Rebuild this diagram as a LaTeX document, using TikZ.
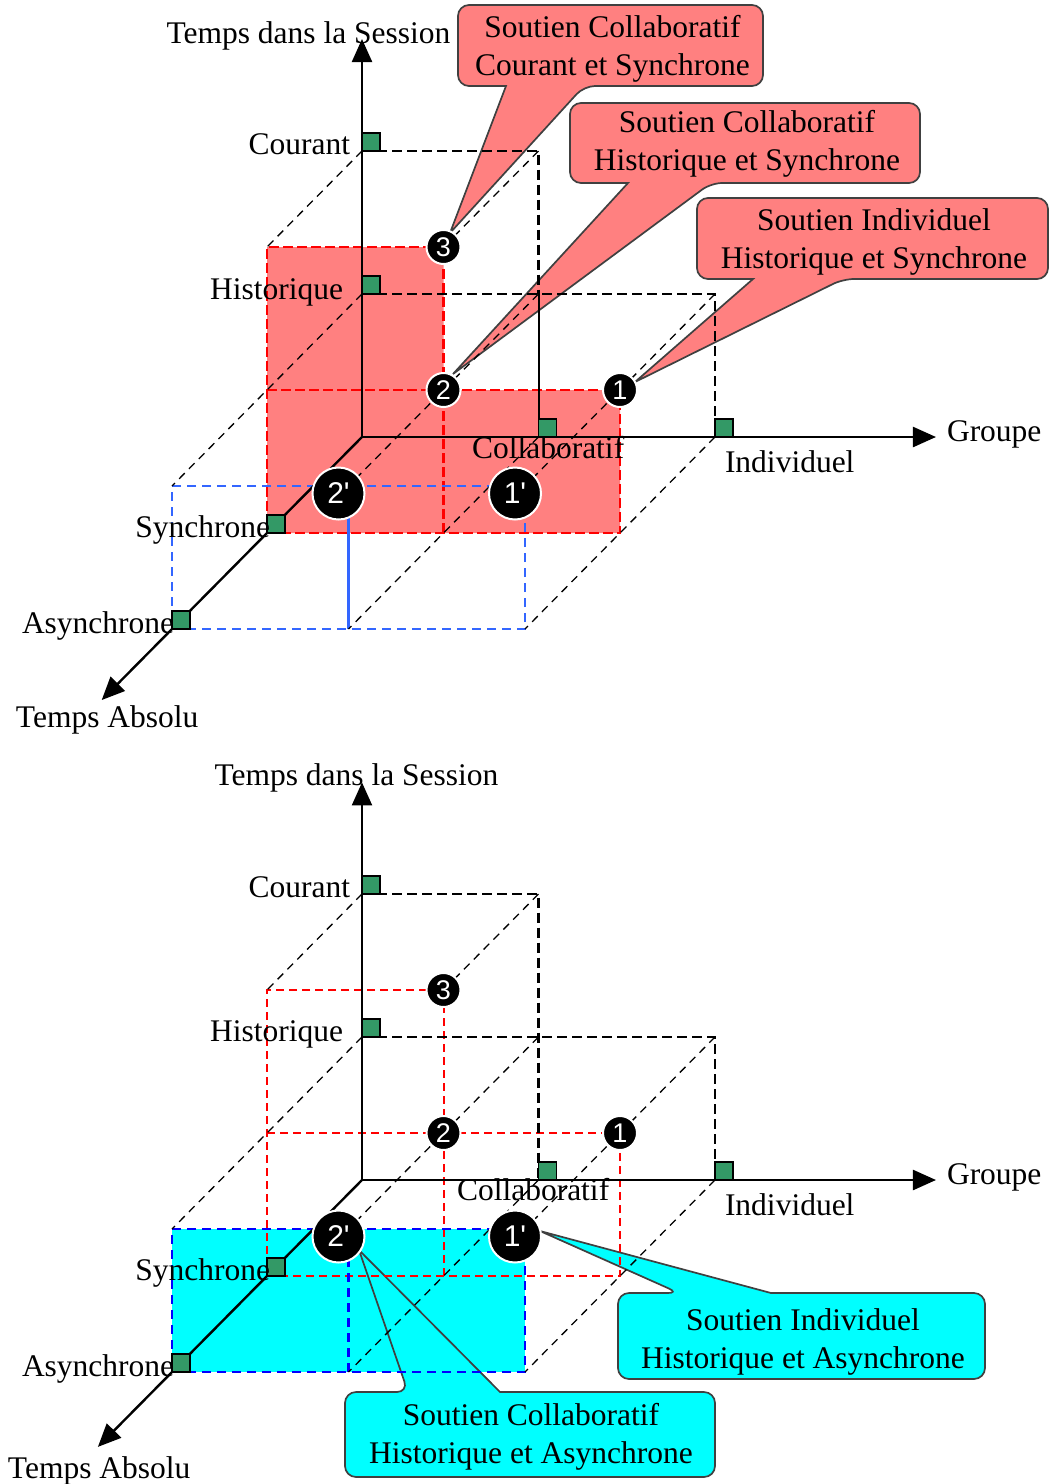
\documentclass[tikz,border=0pt]{standalone}
\usepackage{fontspec}
\setmainfont{Liberation Serif}
\newfontfamily\numfont[Ligatures=TeXOff]{Liberation Sans}
\usetikzlibrary{arrows.meta,calc}
\definecolor{salmon}{RGB}{255,128,128}
\definecolor{ptgreen}{RGB}{51,153,102}
\definecolor{topblue}{RGB}{51,102,255}
\definecolor{cyanfill}{RGB}{0,255,255}
\definecolor{outl}{RGB}{64,64,64}
\begin{document}
\begin{tikzpicture}[x=1pt,y=-1pt,
  lbl/.style={font=\fontsize{31.5}{38}\selectfont, inner sep=0pt, outer sep=0pt},
  thindash/.style={black, line width=1.3pt, dash pattern=on 8pt off 6pt},
  thickdash/.style={black, line width=2.3pt, dash pattern=on 10pt off 5pt},
  axisline/.style={black, line width=2.4pt, -{Triangle[length=23pt,width=20pt]}},
  redthick/.style={red, line width=2.8pt, dash pattern=on 10pt off 4pt},
  redthin/.style={red, line width=2pt, dash pattern=on 8pt off 5pt},
  bluetop/.style={topblue, line width=2.6pt, dash pattern=on 9pt off 6pt},
  bluebot/.style={blue, line width=2.6pt, dash pattern=on 9pt off 6pt},
  sqnode/.style={draw=black, fill=ptgreen, line width=1.8pt, minimum size=18pt, inner sep=0pt, outer sep=0pt, anchor=south west},
  smallc/.style={circle, fill=black, draw=white, line width=2pt, minimum size=34pt, inner sep=0pt, text=white, font=\numfont\fontsize{27}{27}\selectfont},
  bigc/.style={smallc, minimum size=52pt, font=\numfont\fontsize{30}{30}\selectfont},
  bubble/.style={draw=outl, line width=1.7pt, rounded corners=11pt}
]
\fill[white] (0,0) rectangle (1052,1484);
\useasboundingbox (0,0) rectangle (1052,1484);

% ---------- 3D grid coordinates ----------
\begin{scope}[shift={(362,437)}]
\begin{scope}[x={(176.5pt,0pt)},y={(0pt,143pt)},z={(-95pt,-96pt)}]
\foreach \a in {0,1,2}{\foreach \b in {0,1,2}{\foreach \c in {0,1,2}{\coordinate (T\a\b\c) at (\a,\b,\c);}}}
\coordinate (Tx) at (3.252,0,0);
\coordinate (Ty) at (0,2.783,0);
\coordinate (Tz) at (0,0,2.74);
\end{scope}
\end{scope}
\begin{scope}[shift={(362,1180)}]
\begin{scope}[x={(176.5pt,0pt)},y={(0pt,143pt)},z={(-95pt,-96pt)}]
\foreach \a in {0,1,2}{\foreach \b in {0,1,2}{\foreach \c in {0,1,2}{\coordinate (B\a\b\c) at (\a,\b,\c);}}}
\coordinate (Bx) at (3.252,0,0);
\coordinate (By) at (0,2.78,0);
\coordinate (Bz) at (0,0,2.78);
\end{scope}
\end{scope}

% ================= TOP DIAGRAM =================
\fill[salmon] (T001) -- (T201) -- (T211) -- (T111) -- (T121) -- (T021) -- cycle;

% callouts
\coordinate (tipA) at (450,233);
\coordinate (tipB) at (453,374);
\coordinate (tipC) at (635,382);
\draw[bubble, fill=salmon] (458,5) -- (763,5) -- (763,86) -- (584,86) [sharp corners] -- (tipA) -- (506,86) [rounded corners=11pt] -- (458,86) -- cycle;
\draw[bubble, fill=salmon] (570,103) -- (920,103) -- (920,183) -- (711,183) [sharp corners] -- (tipB) -- (628,183) [rounded corners=11pt] -- (570,183) -- cycle;
\draw[bubble, fill=salmon] (697,198) -- (1048,198) -- (1048,279) -- (843,279) [sharp corners] -- (tipC) -- (753,279) [rounded corners=11pt] -- (697,279) -- cycle;

% red plane
\draw[redthick] (T001) -- (T201) -- (T211) -- (T111) -- (T121) -- (T021) -- cycle;
\draw[redthick] (T011) -- (T111);
\draw[redthick] (T101) -- (T111);
% blue plane
\draw[bluetop] (T002) -- (T202) -- (T212) -- (T012) -- cycle;
\draw[topblue, line width=2.6pt] (T102) -- (T112);
% depth lines
\draw[thindash] (T020) -- (T021);
\draw[thindash] (T120) -- (T121);
\draw[thindash] (T010) -- (T011) -- (T012);
\draw[thindash] (T110) -- (T111) -- (T112);
\draw[thindash] (T210) -- (T211) -- (T212);
\draw[thindash] (T100) -- (T101) -- (T102);
\draw[thindash] (T200) -- (T201) -- (T202);
% front face
\draw[thickdash] (T020) -- (T120) -- (T110);
\draw[black, line width=2pt] (T110) -- (T100);
\draw[thickdash] (T010) -- (T210) -- (T200);
% axes
\draw[axisline] (T000) -- (Ty);
\draw[axisline] (T000) -- (Tx);
\draw[axisline] (T000) -- (Tz);
% squares
\node[sqnode] (tq1) at (T020) {};
\node[sqnode] (tq2) at (T010) {};
\node[sqnode] (tq3) at (T100) {};
\node[sqnode] (tq4) at (T200) {};
\node[sqnode] (tq5) at (T001) {};
\node[sqnode] (tq6) at (T002) {};
% circles
\node[smallc] (t3) at (T121) {3};
\node[smallc] (t2) at (T111) {2};
\node[smallc] (t1) at (T211) {1};
\node[bigc] (t2p) at ($(T112)+(-10pt,-7.5pt)$) {2'};
\node[bigc] (t1p) at ($(T212)+(-10pt,-7.5pt)$) {1'};
% labels
\node[lbl, anchor=base] (tl1) at (308.5,43) {Temps dans la Session};
\node[lbl, anchor=base east] (tl2) at (350,154) {Courant};
\node[lbl, anchor=base east] (tl3) at (343,299) {Historique};
\node[lbl, anchor=base west] (tl4) at (472,458) {Collaboratif};
\node[lbl, anchor=base west] (tl5) at (725,472) {Individuel};
\node[lbl, anchor=base west] (tl6) at (947,441) {Groupe};
\node[lbl, anchor=base east] (tl7) at (270,537) {Synchrone};
\node[lbl, anchor=base west] (tl8) at (22,633) {Asynchrone};
\node[lbl, anchor=base west] (tl9) at (16,727) {Temps Absolu};
\node[lbl, anchor=base] (ca1) at (612.5,37) {Soutien Collaboratif};
\node[lbl, anchor=base] (ca2) at (612.5,75) {Courant et Synchrone};
\node[lbl, anchor=base] (cb1) at (747,132) {Soutien Collaboratif};
\node[lbl, anchor=base] (cb2) at (747,170) {Historique et Synchrone};
\node[lbl, anchor=base] (cc1) at (874,230) {Soutien Individuel};
\node[lbl, anchor=base] (cc2) at (874,268) {Historique et Synchrone};

% ================= BOTTOM DIAGRAM =================
\fill[cyanfill] (B002) -- (B202) -- (B212) -- (B012) -- cycle;
\coordinate (tipD) at (540,1231);
\coordinate (tipE) at (359,1250);
\draw[bubble, fill=cyanfill] (618,1293) -- (679,1293) [sharp corners] -- (tipD) -- (771,1293) [rounded corners=11pt] -- (985,1293) -- (985,1379) -- (618,1379) -- cycle;
\draw[bubble, fill=cyanfill] (345,1392) -- (408,1392) [sharp corners] -- (tipE) -- (500,1392) [rounded corners=11pt] -- (715,1392) -- (715,1477) -- (345,1477) -- cycle;

\draw[redthin] (B001) -- (B201) -- (B211) -- (B111) -- (B121) -- (B021) -- cycle;
\draw[redthin] (B011) -- (B111);
\draw[redthin] (B101) -- (B111);
\draw[bluebot] (B002) -- (B202) -- (B212) -- (B012) -- cycle;
\draw[bluebot] (B102) -- (B112);
\draw[thindash] (B020) -- (B021);
\draw[thindash] (B120) -- (B121);
\draw[thindash] (B010) -- (B011) -- (B012);
\draw[thindash] (B110) -- (B111) -- (B112);
\draw[thindash] (B210) -- (B211) -- (B212);
\draw[thindash] (B100) -- (B101) -- (B102);
\draw[thindash] (B200) -- (B201) -- (B202);
\draw[thickdash] (B020) -- (B120) -- (B100);
\draw[thickdash] (B010) -- (B210) -- (B200);
\draw[axisline] (B000) -- (By);
\draw[axisline] (B000) -- (Bx);
\draw[axisline] (B000) -- (Bz);
\node[sqnode] (bq1) at (B020) {};
\node[sqnode] (bq2) at (B010) {};
\node[sqnode] (bq3) at (B100) {};
\node[sqnode] (bq4) at (B200) {};
\node[sqnode] (bq5) at (B001) {};
\node[sqnode] (bq6) at (B002) {};
\node[smallc] (b3) at (B121) {3};
\node[smallc] (b2) at (B111) {2};
\node[smallc] (b1) at (B211) {1};
\node[bigc] (b2p) at ($(B112)+(-10pt,-7.5pt)$) {2'};
\node[bigc] (b1p) at ($(B212)+(-10pt,-7.5pt)$) {1'};
\node[lbl, anchor=base] (bl1) at (356.5,785) {Temps dans la Session};
\node[lbl, anchor=base east] (bl2) at (350,897) {Courant};
\node[lbl, anchor=base east] (bl3) at (343,1041) {Historique};
\node[lbl, anchor=base west] (bl4) at (457,1200) {Collaboratif};
\node[lbl, anchor=base west] (bl5) at (725,1215) {Individuel};
\node[lbl, anchor=base west] (bl6) at (947,1184) {Groupe};
\node[lbl, anchor=base east] (bl7) at (270,1280) {Synchrone};
\node[lbl, anchor=base west] (bl8) at (22,1376) {Asynchrone};
\node[lbl, anchor=base west] (bl9) at (8,1478) {Temps Absolu};
\node[lbl, anchor=base] (cd1) at (803,1330) {Soutien Individuel};
\node[lbl, anchor=base] (cd2) at (803,1368) {Historique et Asynchrone};
\node[lbl, anchor=base] (ce1) at (531,1425) {Soutien Collaboratif};
\node[lbl, anchor=base] (ce2) at (531,1463) {Historique et Asynchrone};
\end{tikzpicture}
\end{document}
